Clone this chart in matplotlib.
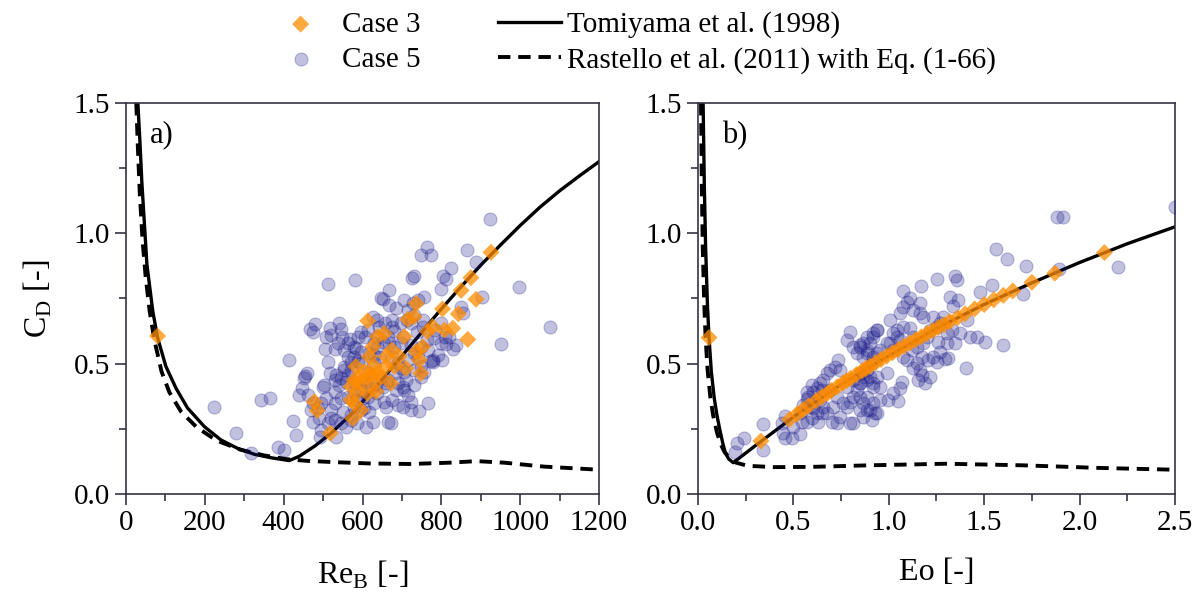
import matplotlib
matplotlib.use("Agg")
import matplotlib.pyplot as plt
from matplotlib.ticker import MultipleLocator

plt.rcParams['font.family'] = ['Liberation Serif', 'DejaVu Serif']
plt.rcParams['mathtext.fontset'] = 'custom'
plt.rcParams['mathtext.rm'] = 'Liberation Serif'

# ---------------- panel a: drag coefficient vs bubble Reynolds number ----------------
re_case3 = [80, 926, 875, 850, 888, 803, 843, 829, 808, 867, 736, 731, 715, 778, 765,
            613, 706, 753, 736, 744, 748, 710, 693, 674, 660, 660, 655, 638, 626, 617,
            630, 638, 647, 622, 605, 583, 592, 596, 579, 571, 588, 613, 634, 672, 681,
            579, 571, 596, 575, 478, 485, 518, 613, 630]
cd_case3_a = [0.606, 0.927, 0.830, 0.781, 0.747, 0.710, 0.691, 0.636, 0.629, 0.593, 0.731,
              0.680, 0.670, 0.642, 0.623, 0.664, 0.604, 0.565, 0.546, 0.514, 0.463, 0.482,
              0.527, 0.552, 0.527, 0.489, 0.616, 0.604, 0.565, 0.527, 0.489, 0.463, 0.450,
              0.457, 0.469, 0.489, 0.444, 0.425, 0.437, 0.412, 0.393, 0.386, 0.393, 0.425,
              0.489, 0.348, 0.361, 0.322, 0.290, 0.354, 0.320, 0.233, 0.450, 0.425]

re_case5 = [924, 996, 1075, 951, 903, 864, 888, 824, 803, 812, 799, 763, 748, 774, 731,
            726, 756, 704, 666, 647, 651, 666, 686, 581, 513, 468, 475, 517, 508, 480,
            545, 548, 569, 589, 596, 627, 638, 642, 656, 674, 681, 676, 698, 712, 723,
            737, 753, 784, 799, 809, 820, 837, 829, 791, 774, 778, 748, 731, 710, 703,
            689, 683, 664, 647, 634, 622, 613, 596, 588, 579, 583, 562, 537, 529, 505,
            512, 518, 533, 545, 529, 541, 562, 571, 552, 558, 579, 596, 583, 562, 545,
            529, 520, 499, 503, 455, 458, 451, 413, 446, 438, 461, 486, 474, 490, 495,
            493, 512, 529, 545, 558, 571, 586, 609, 626, 617, 605, 630, 655, 660, 676,
            689, 702, 723, 723, 744, 765, 715, 704, 664, 672, 533, 423, 431, 385, 402,
            317, 342, 366, 278, 224, 630, 643, 617, 676, 689, 698, 681, 698, 702, 723,
            748, 765, 579, 600, 613, 638, 685, 731, 748, 757, 778, 802, 782, 764, 753,
            731, 715, 727, 740, 850, 854, 799, 812, 541, 520, 554, 562, 609, 651, 660,
            706, 715, 731, 740, 664, 651, 638, 630, 607, 613, 638, 668, 630, 596, 571,
            554, 579, 600, 529, 507, 495, 474, 579, 596, 571, 550, 520, 469]
cd_case5_a = [1.054, 0.795, 0.639, 0.575, 0.756, 0.935, 0.891, 0.866, 0.838, 0.825, 0.788,
              0.946, 0.917, 0.917, 0.838, 0.827, 0.757, 0.744, 0.781, 0.753, 0.747, 0.724,
              0.712, 0.820, 0.804, 0.633, 0.620, 0.638, 0.602, 0.653, 0.633, 0.604, 0.593,
              0.601, 0.620, 0.680, 0.668, 0.639, 0.655, 0.639, 0.624, 0.668, 0.655, 0.668,
              0.655, 0.620, 0.642, 0.629, 0.655, 0.604, 0.604, 0.570, 0.555, 0.533, 0.512,
              0.508, 0.491, 0.476, 0.437, 0.412, 0.425, 0.463, 0.437, 0.450, 0.422, 0.405,
              0.463, 0.501, 0.512, 0.527, 0.559, 0.578, 0.578, 0.558, 0.558, 0.508, 0.463,
              0.457, 0.444, 0.437, 0.418, 0.457, 0.476, 0.489, 0.431, 0.425, 0.399, 0.361,
              0.373, 0.367, 0.348, 0.322, 0.412, 0.418, 0.454, 0.465, 0.444, 0.514, 0.405,
              0.380, 0.380, 0.329, 0.277, 0.290, 0.246, 0.220, 0.271, 0.284, 0.271, 0.256,
              0.284, 0.271, 0.256, 0.277, 0.316, 0.329, 0.348, 0.354, 0.335, 0.361, 0.341,
              0.335, 0.354, 0.322, 0.320, 0.348, 0.380, 0.399, 0.277, 0.271, 0.220, 0.281,
              0.226, 0.179, 0.169, 0.156, 0.361, 0.367, 0.235, 0.332, 0.501, 0.527, 0.540,
              0.527, 0.501, 0.482, 0.565, 0.578, 0.604, 0.572, 0.565, 0.552, 0.565, 0.437,
              0.373, 0.386, 0.399, 0.418, 0.450, 0.469, 0.514, 0.514, 0.597, 0.591, 0.668,
              0.687, 0.706, 0.731, 0.744, 0.719, 0.693, 0.578, 0.575, 0.655, 0.610, 0.552,
              0.527, 0.431, 0.412, 0.425, 0.469, 0.514, 0.540, 0.527, 0.604, 0.584, 0.565,
              0.578, 0.604, 0.629, 0.604, 0.578, 0.533, 0.546, 0.508, 0.476, 0.393, 0.367,
              0.393, 0.367, 0.348, 0.348, 0.335, 0.322, 0.303, 0.316, 0.290, 0.322]

# Tomiyama et al. (1998) correlation, CD over ReB
tomi_re = [30, 35, 40, 53, 68, 80, 101, 127, 156, 199, 241, 283, 326, 368, 414,
           440, 480, 520, 571, 630, 689, 750, 800, 850, 900, 950, 1000, 1050, 1100,
           1150, 1200]
tomi_cd_a = [1.50, 1.36, 1.20, 0.88, 0.70, 0.60, 0.49, 0.405, 0.33, 0.258, 0.207, 0.175,
             0.152, 0.139, 0.128, 0.145, 0.185, 0.233, 0.305, 0.405, 0.51, 0.62, 0.71,
             0.795, 0.878, 0.955, 1.03, 1.10, 1.163, 1.22, 1.275]

# Rastello et al. (2011) with Eq. (1-66), CD over ReB
rast_re = [26, 30, 35, 42, 50, 60, 72, 90, 110, 140, 180, 230, 290, 350, 410, 460,
           530, 620, 720, 820, 890, 960, 1060, 1200]
rast_cd_a = [1.50, 1.33, 1.15, 0.97, 0.83, 0.70, 0.59, 0.47, 0.39, 0.315, 0.255, 0.205,
             0.17, 0.148, 0.133, 0.127, 0.122, 0.117, 0.115, 0.12, 0.126, 0.12, 0.105, 0.093]

# ---------------- panel b: drag coefficient vs Eotvos number ----------------
eo_case3 = [0.058, 0.33, 0.48, 0.52, 0.55, 0.58, 0.62, 0.65, 0.68, 0.70, 0.73, 0.76, 0.78,
            0.80, 0.83, 0.86, 0.88, 0.90, 0.93, 0.96, 0.99, 1.02, 1.05, 1.08, 1.11, 1.14,
            1.17, 1.20, 1.23, 1.26, 1.29, 1.32, 1.36, 1.40, 1.45, 1.50, 1.55, 1.60, 1.65,
            1.75, 1.87, 2.13]
cd_case3_b = [0.600, 0.203, 0.286, 0.307, 0.322, 0.338, 0.358, 0.373, 0.387, 0.397, 0.411,
              0.426, 0.435, 0.444, 0.458, 0.472, 0.481, 0.490, 0.503, 0.516, 0.529, 0.542,
              0.554, 0.567, 0.579, 0.591, 0.603, 0.615, 0.627, 0.639, 0.650, 0.662, 0.676,
              0.691, 0.710, 0.727, 0.745, 0.762, 0.779, 0.812, 0.847, 0.926]

eo_case5 = [0.203, 0.194, 0.241, 0.342, 0.342, 0.438, 0.456, 0.456, 0.491, 0.535, 0.447,
            0.500, 0.543, 0.570, 0.573, 0.596, 0.622, 0.639, 0.657, 0.674, 0.692, 0.718,
            0.735, 0.744, 0.779, 0.797, 0.814, 0.832, 0.849, 0.866, 0.884, 0.901, 0.919,
            0.936, 0.936, 0.910, 0.884, 0.866, 0.849, 0.832, 0.814, 0.797, 0.779, 0.762,
            0.744, 0.727, 0.701, 0.674, 0.648, 0.631, 0.622, 0.604, 0.587, 0.596, 0.570,
            0.535, 0.578, 0.639, 0.709, 0.727, 0.779, 0.814, 0.849, 0.884, 0.919, 0.936,
            0.919, 0.884, 0.866, 0.814, 0.797, 0.936, 0.910, 0.849, 0.692, 0.657, 0.552,
            0.604, 0.648,
            1.562, 1.618, 1.717, 1.539, 1.251, 1.347, 1.356, 1.169, 1.073, 1.478, 1.321,
            1.364, 1.338, 1.164, 1.111, 1.094, 1.076, 1.059, 1.129, 1.164, 1.181, 1.006,
            0.936, 0.919, 0.884, 0.867, 0.849, 0.884, 0.919, 0.954, 0.989, 1.024, 1.041,
            1.076, 1.111, 1.129, 1.041, 1.059, 1.006, 1.024, 1.076, 1.094, 1.120, 1.146,
            1.181, 1.198, 1.216, 1.251, 1.268, 1.286, 1.233, 1.303, 1.330, 1.347, 1.373,
            1.408, 1.426, 1.461, 1.504, 1.600, 1.260, 1.303, 1.268, 1.233, 1.251, 1.207,
            1.172, 1.146, 1.129, 1.164, 1.172, 1.190, 1.155, 1.216, 1.067, 1.059, 0.989,
            0.954, 0.954, 0.998, 1.046, 1.024, 0.919, 0.901, 0.867, 0.849, 0.884, 0.867,
            0.901, 0.928, 0.849, 1.405, 1.312, 1.295,
            1.883, 1.915, 1.892, 2.203, 1.702, 2.500]
cd_case5_b = [0.197, 0.162, 0.214, 0.269, 0.169, 0.271, 0.299, 0.214, 0.214, 0.230, 0.233,
              0.258, 0.278, 0.393, 0.363, 0.418, 0.405, 0.425, 0.437, 0.463, 0.476, 0.489,
              0.514, 0.476, 0.591, 0.623, 0.565, 0.540, 0.572, 0.527, 0.552, 0.578, 0.604,
              0.629, 0.540, 0.501, 0.476, 0.450, 0.425, 0.399, 0.373, 0.354, 0.335, 0.348,
              0.297, 0.271, 0.278, 0.309, 0.309, 0.278, 0.309, 0.329, 0.335, 0.290, 0.278,
              0.309, 0.373, 0.361, 0.335, 0.373, 0.412, 0.437, 0.463, 0.437, 0.412, 0.450,
              0.348, 0.322, 0.297, 0.271, 0.271, 0.309, 0.284, 0.373, 0.399, 0.335, 0.341,
              0.393, 0.399,
              0.940, 0.902, 0.875, 0.802, 0.824, 0.836, 0.821, 0.798, 0.780, 0.776, 0.757,
              0.744, 0.721, 0.734, 0.751, 0.738, 0.719, 0.693, 0.706, 0.693, 0.680, 0.668,
              0.629, 0.616, 0.604, 0.578, 0.565, 0.540, 0.527, 0.552, 0.578, 0.616, 0.629,
              0.642, 0.636, 0.604, 0.604, 0.591, 0.578, 0.552, 0.527, 0.514, 0.552, 0.565,
              0.578, 0.604, 0.629, 0.642, 0.655, 0.680, 0.680, 0.616, 0.629, 0.578, 0.616,
              0.668, 0.604, 0.604, 0.582, 0.572, 0.584, 0.578, 0.546, 0.527, 0.508, 0.514,
              0.527, 0.501, 0.482, 0.476, 0.457, 0.425, 0.437, 0.450, 0.431, 0.405, 0.463,
              0.412, 0.361, 0.361, 0.357, 0.386, 0.425, 0.450, 0.463, 0.425, 0.373, 0.348,
              0.322, 0.309, 0.322, 0.485, 0.520, 0.517,
              1.064, 1.064, 0.862, 0.872, 0.767, 1.102]

# Tomiyama et al. (1998) correlation, CD over Eo
tomi_eo = [0.027, 0.033, 0.040, 0.050, 0.058, 0.070, 0.085, 0.100, 0.115, 0.130, 0.142,
           0.160, 0.185, 0.30, 0.50, 0.75, 1.00, 1.25, 1.50, 1.75, 2.00, 2.25, 2.50]
tomi_cd_b = [1.50, 1.20, 0.95, 0.72, 0.60, 0.47, 0.37, 0.30, 0.245, 0.195, 0.162, 0.135,
             0.120, 0.185, 0.295, 0.42, 0.53, 0.635, 0.727, 0.81, 0.888, 0.96, 1.025]

# Rastello et al. (2011) with Eq. (1-66), CD over Eo
rast_eo = [0.016, 0.020, 0.025, 0.032, 0.040, 0.050, 0.065, 0.080, 0.100, 0.120, 0.140,
           0.170, 0.200, 0.260, 0.40, 0.60, 0.90, 1.30, 1.70, 2.10, 2.50]
rast_cd_b = [1.50, 1.20, 0.95, 0.75, 0.60, 0.48, 0.37, 0.30, 0.235, 0.19, 0.16, 0.135,
             0.12, 0.108, 0.103, 0.104, 0.11, 0.116, 0.11, 0.10, 0.093]

# ---------------- styling ----------------
BLUE = (0.10, 0.10, 0.55)
ORANGE = '#ff8c00'
TICK_FS = 21
LABEL_FS = 23

fig = plt.figure(figsize=(11.98, 5.94), dpi=100)
ax_a = fig.add_axes([0.1052, 0.1684, 0.3948, 0.6582])
ax_b = fig.add_axes([0.5826, 0.1684, 0.3982, 0.6582])


def style_axes(ax):
    for side in ('left', 'bottom', 'right', 'top'):
        ax.spines[side].set_linewidth(1.2)
        ax.spines[side].set_color('#333344')
    ax.tick_params(axis='both', which='both', direction='out',
                   top=False, right=False, labelsize=TICK_FS, width=1.2,
                   colors='#333344', labelcolor='black')
    ax.tick_params(which='major', length=8)
    ax.tick_params(which='minor', length=5)
    ax.set_ylim(0, 1.5)
    ax.yaxis.set_major_locator(MultipleLocator(0.5))
    ax.yaxis.set_minor_locator(MultipleLocator(0.25))
    ax.yaxis.set_major_formatter(plt.FormatStrFormatter('%.1f'))


def draw(ax, x_tomi, y_tomi, x_rast, y_rast, x5, y5, x3, y3):
    ax.plot(x_tomi, y_tomi, color='black', lw=2.4, solid_joinstyle='round',
            zorder=2, label='Tomiyama et al. (1998)')
    ax.plot(x_rast, y_rast, color='black', lw=2.8, linestyle=(0, (3.2, 2.0)),
            zorder=2, label='Rastello et al. (2011) with Eq. (1-66)')
    ax.scatter(x5, y5, s=88, marker='o', facecolor=BLUE, edgecolor=BLUE,
               alpha=0.27, linewidths=0.8, zorder=3, label='Case 5')
    ax.scatter(x3, y3, s=75, marker='D', facecolor=ORANGE, edgecolor='none',
               alpha=0.75, zorder=4, label='Case 3')


draw(ax_a, tomi_re, tomi_cd_a, rast_re, rast_cd_a, re_case5, cd_case5_a,
     re_case3, cd_case3_a)
draw(ax_b, tomi_eo, tomi_cd_b, rast_eo, rast_cd_b, eo_case5, cd_case5_b,
     eo_case3, cd_case3_b)

style_axes(ax_a)
ax_a.set_xlim(0, 1200)
ax_a.xaxis.set_major_locator(MultipleLocator(200))
ax_a.xaxis.set_minor_locator(MultipleLocator(100))
ax_a.set_xlabel(r'Re$_\mathrm{B}$ [-]', fontsize=LABEL_FS, labelpad=16)
ax_a.set_ylabel(r'C$_\mathrm{D}$ [-]', fontsize=LABEL_FS, labelpad=14)
ax_a.text(0.05, 0.955, 'a)', transform=ax_a.transAxes, fontsize=22,
          va='top', ha='left')

style_axes(ax_b)
ax_b.set_xlim(0, 2.5)
ax_b.xaxis.set_major_locator(MultipleLocator(0.5))
ax_b.xaxis.set_minor_locator(MultipleLocator(0.25))
ax_b.xaxis.set_major_formatter(plt.FormatStrFormatter('%.1f'))
ax_b.set_xlabel('Eo [-]', fontsize=LABEL_FS, labelpad=16)
ax_b.text(0.05, 0.955, 'b)', transform=ax_b.transAxes, fontsize=22,
          va='top', ha='left')

# legends above both panels: markers on the left, correlations on the right
h, l = ax_a.get_legend_handles_labels()
leg_markers = fig.legend([h[3], h[2]], [l[3], l[2]], loc='upper left',
                         bbox_to_anchor=(0.2412, 0.981), frameon=False,
                         fontsize=21, handlelength=0.8, handletextpad=1.03,
                         labelspacing=0.3, borderpad=0, borderaxespad=0)
leg_lines = fig.legend([h[0], h[1]], [l[0], l[1]], loc='upper left',
                       bbox_to_anchor=(0.4157, 0.981), frameon=False,
                       fontsize=21, handlelength=2.15, handletextpad=0.2,
                       labelspacing=0.3, borderpad=0, borderaxespad=0)

fig.savefig('out.png', dpi=100)
